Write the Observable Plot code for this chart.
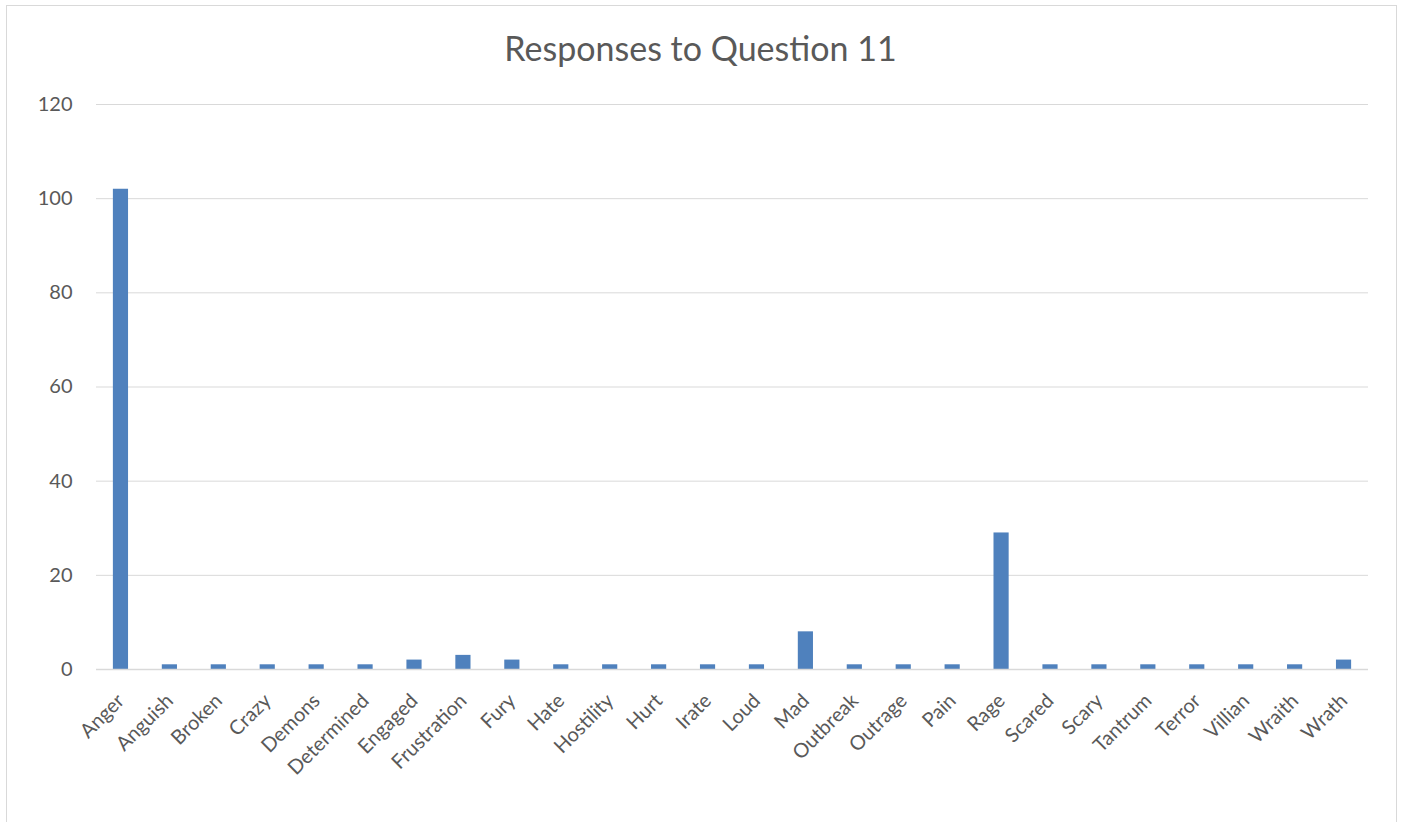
<!DOCTYPE html>
<html>
<head>
<meta charset="utf-8">
<script src="https://cdn.jsdelivr.net/npm/d3@7"></script>
<script src="https://cdn.jsdelivr.net/npm/@observablehq/plot@0.6"></script>
<style>
  body { margin: 0; background: #fff; font-family: Lato, "Open Sans", sans-serif; }
  #frame { position: absolute; left: 6px; top: 5px; width: 1391px; height: 840px; border: 1.5px solid #d9d9d9; box-sizing: border-box; pointer-events: none; }
  #title { height: 80px; width: 1401px; box-sizing: border-box; padding-top: 28px; text-align: center; font-size: 34px; color: #595959; line-height: 1.2; }
  #chart svg { display: block; }
</style>
</head>
<body>
<div id="frame"></div>
<div id="title">Responses to Question 11</div>
<div id="chart"></div>
<script>
// Words given as responses and how many times each was given
const words = [
  "Anger", "Anguish", "Broken", "Crazy", "Demons", "Determined", "Engaged",
  "Frustration", "Fury", "Hate", "Hostility", "Hurt", "Irate", "Loud", "Mad",
  "Outbreak", "Outrage", "Pain", "Rage", "Scared", "Scary", "Tantrum",
  "Terror", "Villian", "Wraith", "Wrath"
];
const counts = [
  102, 1, 1, 1, 1, 1, 2,
  3, 2, 1, 1, 1, 1, 1, 8,
  1, 1, 1, 29, 1, 1, 1,
  1, 1, 1, 2
];
const yTicks = [0, 20, 40, 60, 80, 100, 120];

const data = words.map((word, i) => ({ word, count: counts[i] }));

const chart = Plot.plot({
  width: 1401,
  height: 742,
  marginLeft: 96,
  marginRight: 33,
  marginTop: 24,
  marginBottom: 153,
  style: {
    fontFamily: "Lato, 'Open Sans', sans-serif",
    fontSize: "20px",
    color: "#595959",
    background: "transparent",
    overflow: "visible"
  },
  x: {
    domain: words,
    round: false,
    paddingInner: 0.69,
    paddingOuter: 0.345,
    label: null,
    tickSize: 0,
    tickPadding: 28,
    tickRotate: -45
  },
  y: {
    domain: [0, 120],
    ticks: yTicks,
    label: null,
    tickSize: 0,
    tickPadding: 24
  },
  marks: [
    Plot.gridY(yTicks, { stroke: "#d9d9d9", strokeOpacity: 1, strokeWidth: 1 }),
    Plot.barY(data, { x: "word", y: "count", fill: "#4f81bd" }),
    Plot.ruleY([0], { stroke: "#d9d9d9", strokeWidth: 1.5 })
  ]
});

document.getElementById("chart").appendChild(chart);
</script>
</body>
</html>
